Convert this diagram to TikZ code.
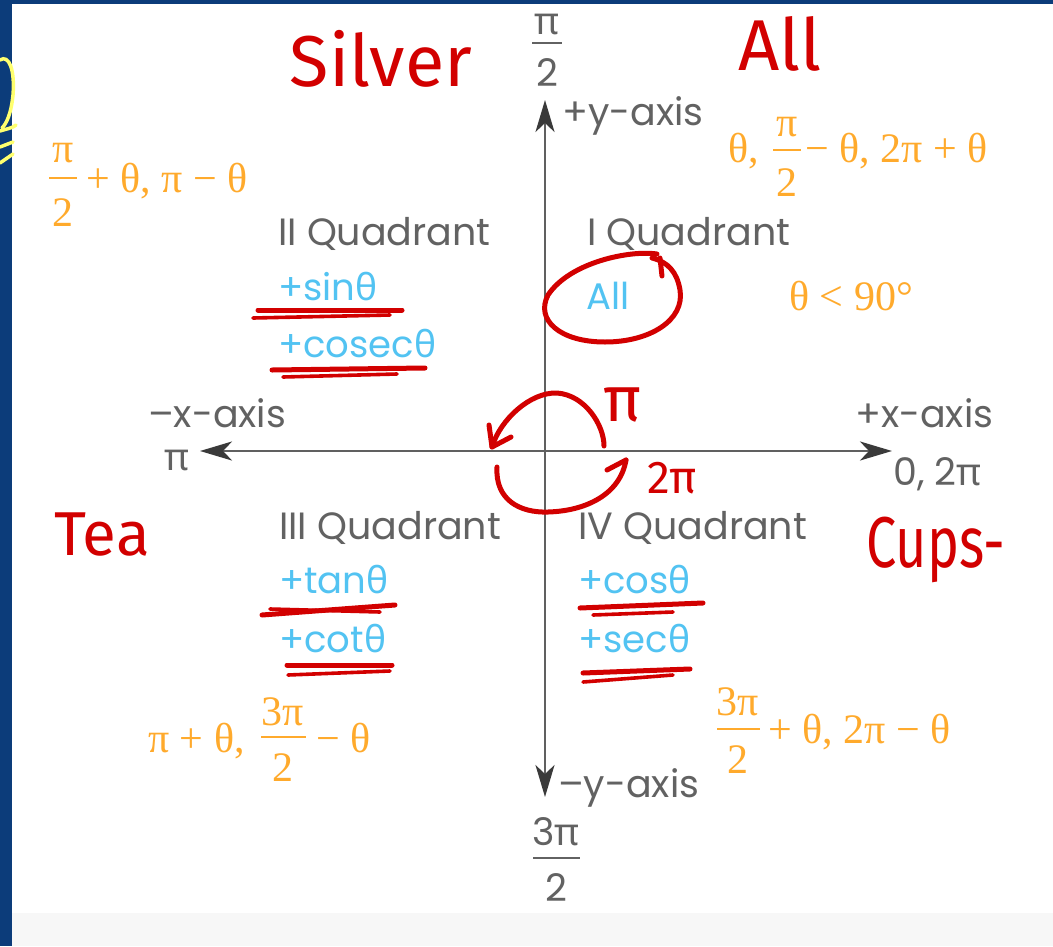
\documentclass[tikz,border=0pt]{standalone}
\usepackage{fontspec}
\usepackage{graphicx}
\setmainfont{Poppins}
\newfontfamily\grk{Noto Sans}
\newfontfamily\orf{Liberation Serif}
\newfontfamily\hand{Fira Sans}
\usetikzlibrary{arrows.meta}
\definecolor{axisgray}{HTML}{606060}
\definecolor{tipgray}{HTML}{3A3A3A}
\definecolor{txtgray}{HTML}{626262}
\definecolor{orng}{HTML}{FFAA2C}
\definecolor{sky}{HTML}{52C3F2}
\definecolor{pen}{HTML}{D20000}
\definecolor{framec}{HTML}{0C3C7A}
\definecolor{hilite}{HTML}{FFFF6E}
\definecolor{footer}{HTML}{F7F7F7}
\newcommand{\gth}{{\grk θ}}
\newcommand{\gpi}{{\grk π}}
\begin{document}
\begin{tikzpicture}[x=1pt,y=-1pt,
  gtxt/.style={text=txtgray, font=\fontsize{38}{44}\selectfont, inner sep=0pt},
  btxt/.style={text=sky, font=\fontsize{37}{44}\selectfont, inner sep=0pt},
  otxt/.style={text=orng, font=\orf\fontsize{42}{48}\selectfont, inner sep=0pt},
  ink/.style={draw=pen, line width=5pt, line cap=round, line join=round},
  thinink/.style={draw=pen, line width=3.6pt, line cap=round, line join=round},
  htxt/.style={text=pen, font=\hand\fontsize{72}{80}\selectfont, inner sep=0pt},
  hl/.style={draw=hilite, line width=3.5pt, line cap=round},
  axisline/.style={draw=axisgray, line width=2.6pt,
    {Stealth[length=32pt,width=19pt,inset=9pt,color=tipgray]}-{Stealth[length=32pt,width=19pt,inset=9pt,color=tipgray]}},
  gbar/.style={draw=txtgray, line width=1.8pt},
  obar/.style={draw=orng, line width=1.6pt},
]
\useasboundingbox (0,0) rectangle (1053,946);
% background and frame
\fill[white] (0,0) rectangle (1053,946);
\fill[footer] (0,913) rectangle (1053,946);
\fill[framec] (0,0) rectangle (1053,4);
\fill[framec] (0,0) rectangle (12,946);

% yellow marks on the left edge
\draw[hl] (0,60) .. controls (9,54) and (15,70) .. (13,95) .. controls (11,115) and (6,124) .. (2,128);
\draw[hl] (0,131) .. controls (6,129) and (13,128) .. (16,125);
\draw[hl] (0,147) -- (13,142);
\draw[hl] (0,163) -- (13,154);

% axes
\coordinate (xl) at (200,451);
\coordinate (xr) at (892,451);
\coordinate (yt) at (545,100);
\coordinate (yb) at (545,797);
\draw[axisline] (xl) -- (xr);
\draw[axisline] (yb) -- (yt);

% axis labels
\node[gtxt] (pnum) at (547,25) {\gpi};
\draw[gbar] (532,43) -- (562,43);
\node[gtxt] (pden) at (547,73) {2};
\node[gtxt, anchor=base west] (ypos) at (562,125) {+y-axis};
\node[gtxt, anchor=base west] (yneg) at (558,797) {–y-axis};
\node[gtxt] (tnum) at (556,832) {3\gpi};
\draw[gbar] (533,858) -- (580,858);
\node[gtxt] (tden) at (556,888) {2};
\node[gtxt, anchor=base west] (xneg) at (148,427) {–x-axis};
\node[gtxt] (xpi) at (177,460) {\gpi};
\node[gtxt, anchor=base west] (xpos) at (855,427) {+x-axis};
\node[gtxt, anchor=base west] (xzero) at (893,485) {0, 2\gpi};

% quadrant labels
\node[gtxt, anchor=base west] (q2) at (278,245) {II Quadrant};
\node[gtxt, anchor=base west] (q1) at (587,245) {I Quadrant};
\node[gtxt, anchor=base west] (q3) at (279,539) {III Quadrant};
\node[gtxt, anchor=base west] (q4) at (578,539) {IV Quadrant};

% signs
\node[btxt, anchor=base west] (sin) at (278,300) {+sin\gth};
\node[btxt, anchor=base west] (cosec) at (278,357) {+cosec\gth};
\node[btxt, anchor=base west] (all) at (586,309) {All};
\node[btxt, anchor=base west] (tan) at (279,593) {+tan\gth};
\node[btxt, anchor=base west] (cot) at (279,652) {+cot\gth};
\node[btxt, anchor=base west] (cos) at (578,593) {+cos\gth};
\node[btxt, anchor=base west] (sec) at (578,652) {+sec\gth};

% orange expressions
% top left
\node[otxt] (tlnum) at (63,153) {π};
\draw[obar] (49,178) -- (77,178);
\node[otxt] (tlden) at (63,213) {2};
\node[otxt, anchor=base west] (tlrest) at (86,192) {+ θ, π − θ};
% top right
\node[otxt, anchor=base west] (trfirst) at (728,162) {θ,};
\node[otxt] (trnum) at (787,127) {π};
\draw[obar] (773,150) -- (801,150);
\node[otxt] (trden) at (787,183) {2};
\node[otxt, anchor=base west] (trrest) at (805,162) {− θ, 2π + θ};
\node[otxt, anchor=base west] (lt90) at (789,310) {θ < 90°};
% bottom left
\node[otxt, anchor=base west] (blfirst) at (148,752) {π + θ,};
\node[otxt] (blnum) at (283,712) {3π};
\draw[obar] (261,737) -- (306,737);
\node[otxt] (blden) at (283,768) {2};
\node[otxt, anchor=base west] (blrest) at (316,752) {− θ};
% bottom right
\node[otxt] (brnum) at (738,702) {3π};
\draw[obar] (717,729) -- (760,729);
\node[otxt] (brden) at (738,760) {2};
\node[otxt, anchor=base west] (brrest) at (768,743) {+ θ, 2π − θ};

% red handwriting
\node[htxt, anchor=base] (silver) at (381,86) {Silver};
\node[htxt, anchor=base] (allr) at (780,70) {All};
\node[htxt, anchor=base, font=\hand\fontsize{62}{70}\selectfont] (tea) at (102,555) {Tea};
\node[htxt, anchor=base] (cups) at (936,567) {\scalebox{0.75}[1]{Cups-}};
\node[htxt, font=\hand\fontsize{64}{70}\selectfont] (pir) at (623,405) {π};
\node[htxt, font=\hand\fontsize{46}{50}\selectfont] (twopi) at (672,478) {2π};

% loops around the origin
\draw[ink] (604,446) .. controls (604,425) and (585,395) .. (557,393) .. controls (530,392) and (500,420) .. (492,447);
\draw[ink] (489,425) -- (492,447) -- (511,437);
\draw[ink] (497,467) .. controls (495,500) and (520,513) .. (548,512) .. controls (585,511) and (620,495) .. (626,460);
\draw[ink] (607,470) -- (626,460);

% circle round All
\draw[ink] (657,254) .. controls (630,250) and (570,262) .. (548,295) .. controls (535,320) and (560,342) .. (605,342) .. controls (650,342) and (685,320) .. (680,290) .. controls (677,272) and (668,262) .. (652,258);
\draw[ink] (660,258) -- (662,276);

% underlines
\draw[ink] (258,310) -- (402,310);
\draw[thinink] (253,318) -- (390,315);
\draw[ink] (272,370) -- (425,368);
\draw[thinink] (283,377) -- (397,374);
\draw[ink] (262,615) -- (395,605);
\draw[thinink] (270,609) -- (380,612);
\draw[ink] (287,665) -- (392,665);
\draw[thinink] (288,675) -- (390,671);
\draw[ink] (580,608) -- (703,603);
\draw[thinink] (593,615) -- (673,612);
\draw[ink] (583,673) -- (690,669);
\draw[thinink] (583,682) -- (673,675);
\end{tikzpicture}
\end{document}
